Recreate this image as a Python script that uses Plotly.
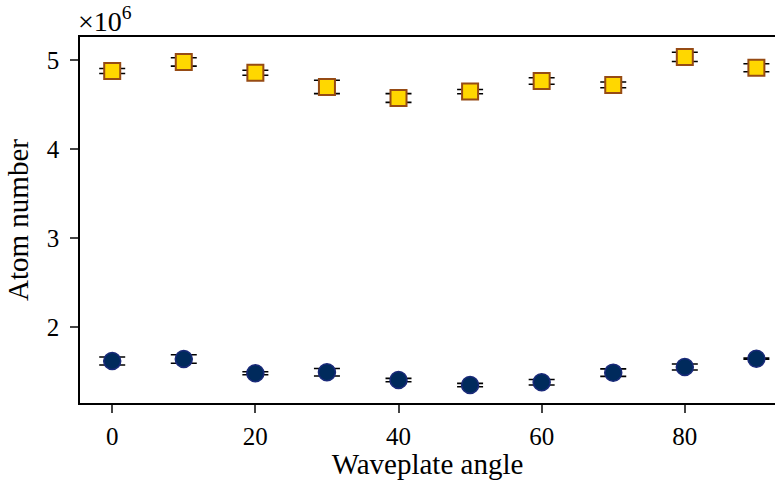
import plotly.graph_objects as go

angles = [0, 10, 20, 30, 40, 50, 60, 70, 80, 90]
upper_vals = [4.876, 4.978, 4.856, 4.697, 4.573, 4.645, 4.764, 4.72, 5.034, 4.912]
upper_err = [0.028, 0.047, 0.028, 0.075, 0.049, 0.024, 0.037, 0.032, 0.052, 0.045]
lower_vals = [1.618, 1.640, 1.480, 1.491, 1.404, 1.348, 1.379, 1.487, 1.551, 1.644]
lower_err = [0.045, 0.048, 0.017, 0.042, 0.019, 0.019, 0.031, 0.042, 0.034, 0.006]
y_tick_vals = [2, 3, 4, 5]
x_tick_vals = [0, 20, 40, 60, 80]

scale = 1e6
font_family = "Liberation Serif, DejaVu Serif, serif"

fig = go.Figure()
fig.add_trace(go.Scatter(
    x=angles, y=[v * scale for v in upper_vals], mode="markers",
    error_y=dict(type="data", array=[e * scale for e in upper_err], color="black", thickness=1.6, width=13),
    marker=dict(symbol="square", size=16, color="#FFD700", line=dict(color="#964B14", width=2)),
    showlegend=False,
))
fig.add_trace(go.Scatter(
    x=angles, y=[v * scale for v in lower_vals], mode="markers",
    error_y=dict(type="data", array=[e * scale for e in lower_err], color="black", thickness=1.6, width=13),
    marker=dict(symbol="circle", size=17, color="#002A5C", line=dict(color="#1A2A7A", width=1.5)),
    showlegend=False,
))

fig.update_layout(
    width=775, height=480,
    margin=dict(l=80, r=0, t=37, b=77),
    plot_bgcolor="white", paper_bgcolor="white",
    font=dict(family=font_family, color="black", size=25),
    xaxis=dict(
        range=[-4.5, 92.6], tickvals=x_tick_vals, ticks="outside", ticklen=8, tickwidth=1.5,
        showline=True, linecolor="black", linewidth=1.5, mirror=True, showgrid=False, zeroline=False,
        title=dict(text="Waveplate angle", font=dict(size=29), standoff=4),
        tickfont=dict(size=25), ticklabelstandoff=2,
    ),
    yaxis=dict(
        range=[1.146 * scale, 5.258 * scale], tickvals=[v * scale for v in y_tick_vals],
        ticktext=[str(v) for v in y_tick_vals], ticks="outside", ticklen=8, tickwidth=1.5,
        showline=True, linecolor="black", linewidth=1.5, mirror=False, showgrid=False, zeroline=False,
        title=dict(text="Atom number", font=dict(size=29), standoff=10),
        tickfont=dict(size=25), ticklabelstandoff=6,
    ),
    annotations=[dict(
        text="×10<sup>6</sup>", xref="paper", yref="paper", x=0, y=1, xanchor="left", yanchor="bottom",
        showarrow=False, font=dict(size=28, family=font_family), yshift=-2, xshift=-4,
    )],
)

fig.write_html("out.html")
